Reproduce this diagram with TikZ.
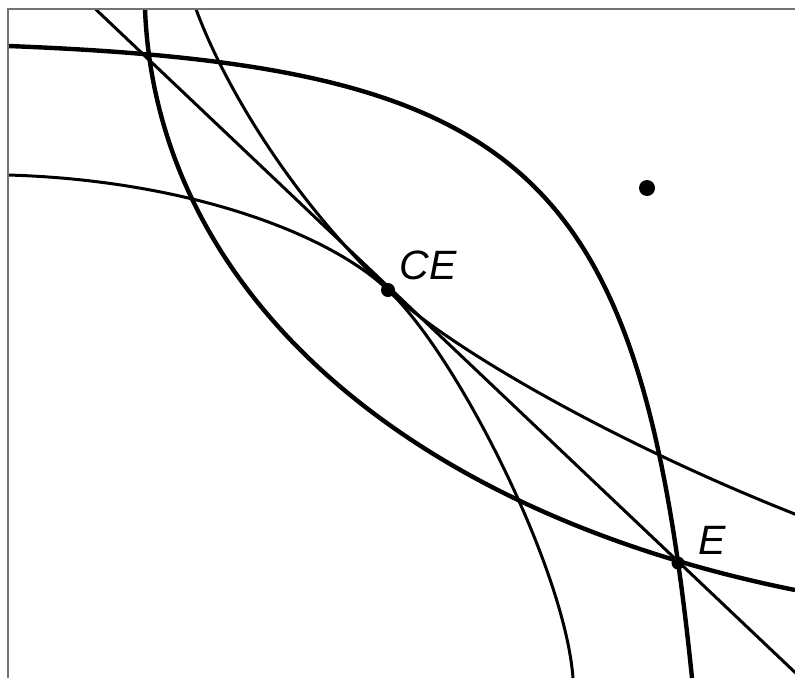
\documentclass[tikz,border=0pt]{standalone}
\usepackage{fontspec}
\setmainfont{Liberation Sans}
\usetikzlibrary{positioning}
\begin{document}
\begin{tikzpicture}[x=1pt,y=-1pt,
    heavy/.style={line width=4.4pt},
    light/.style={line width=3pt},
    frameline/.style={draw=black!55,line width=1.6pt},
    pt/.style={circle,fill=black,inner sep=0pt},
    lbl/.style={font=\fontsize{41}{48}\selectfont\itshape,inner sep=0pt}
  ]
  \useasboundingbox (0,0) rectangle (795,678);
  \coordinate (CE) at (388,290);
  \coordinate (E) at (678,563);
  \coordinate (W) at (647,188);
  \coordinate (Ltop) at (88,2);
  \coordinate (Lbot) at (802,679);
  \begin{scope}
    \clip (8,9) rectangle (795,678);
    % thick curves
    \draw[heavy] (8,46) .. controls (530,66) and (640,170) .. (692,678);
    \draw[heavy] (145,9) .. controls (156,290) and (403,511) .. (795,590);
    % thin curves through CE
    \draw[light] (196,9) .. controls (218,70) and (280,187) .. (CE)
      .. controls (458,356) and (565,570) .. (573,678);
    \draw[light] (8,175) .. controls (182,180) and (326,231) .. (CE)
      .. controls (452,351) and (625,448) .. (805,518);
    % straight line
    \draw[light] (Ltop) -- (Lbot);
  \end{scope}
  \draw[frameline] (8,678) -- (8,9) -- (795,9);
  \node[pt,minimum size=14pt] (ce) at (CE) {};
  \node[pt,minimum size=13pt] (e) at (E) {};
  \node[pt,minimum size=16pt] (w) at (W) {};
  \node[lbl] (celabel) at (428,265) {CE};
  \node[lbl] (elabel) at (712,540) {E};
\end{tikzpicture}
\end{document}
